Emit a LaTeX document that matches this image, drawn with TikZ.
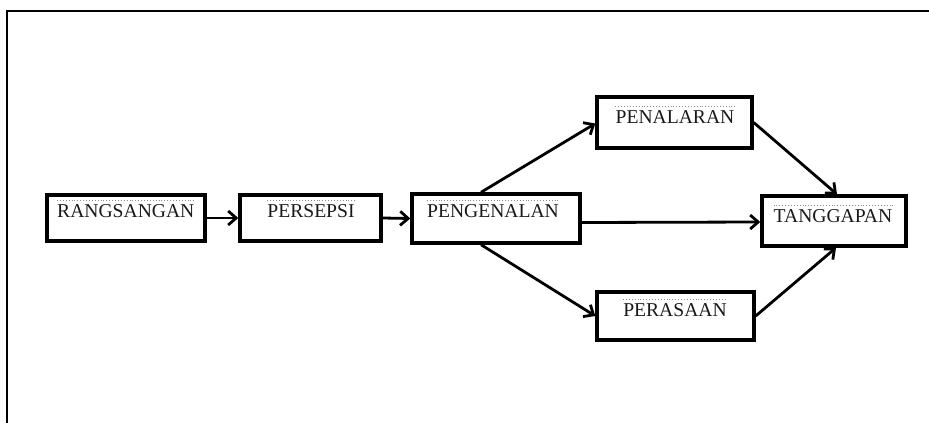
\documentclass[tikz,border=0pt]{standalone}
\usepackage{fontspec}
\setmainfont{Liberation Serif}
\usetikzlibrary{arrows.meta}
\begin{document}
\begin{tikzpicture}[x=1pt,y=-1pt,
  boxnode/.style={draw=black,line width=3.4pt,inner sep=0pt,fill=white},
  lbl/.style={inner sep=0pt,anchor=base,text=black!90,font=\fontsize{19.6}{21}\selectfont},
  arr/.style={line width=2.8pt,-{Straight Barb[length=8pt,width=14pt]}},
  dotline/.style={black!45,line width=0.9pt,dotted}]
\useasboundingbox (0,0) rectangle (929,423);
\draw[line width=2.4pt] (7,423) -- (7,11) -- (929,11);
% boxes
\node[boxnode,minimum width=158pt,minimum height=46pt] (r) at (126,218) {};
\node[boxnode,minimum width=141pt,minimum height=46pt] (p) at (310.5,218) {};
\node[boxnode,minimum width=168pt,minimum height=49pt] (g) at (496,218.5) {};
\node[boxnode,minimum width=155pt,minimum height=51pt] (n) at (674.5,122.5) {};
\node[boxnode,minimum width=157pt,minimum height=48pt] (s) at (675.5,316) {};
\node[boxnode,minimum width=144pt,minimum height=50pt] (t) at (834,221) {};
% labels
\node[lbl,anchor=base west] (rT) at (57,217) {RANGSANGAN};
\node[lbl] (pT) at (311,217) {PERSEPSI};
\node[lbl] (gT) at (493,217) {PENGENALAN};
\node[lbl] (nT) at (675,123) {PENALARAN};
\node[lbl] (sT) at (675,316) {PERASAAN};
\node[lbl] (tT) at (833,222) {TANGGAPAN};
\foreach \q in {rT,pT,gT,nT,sT,tT}
  \draw[dotline] ([yshift=3pt]\q.north west) -- ([yshift=3pt]\q.north east);
% arrows
\draw[arr] (r.east) -- (p.west);
\draw[arr] (p.east) -- (g.west);
\draw[arr] ([yshift=-4pt]g.east) -- ([yshift=-1pt]t.west);
\draw[arr] ([xshift=-15pt]g.north) -- ([yshift=-1pt]n.west);
\draw[arr] ([xshift=-15pt]g.south) -- (s.west);
\draw[arr] (n.east) -- ([xshift=3pt]t.north);
\draw[arr] (s.east) -- ([xshift=2pt]t.south);
\end{tikzpicture}
\end{document}
